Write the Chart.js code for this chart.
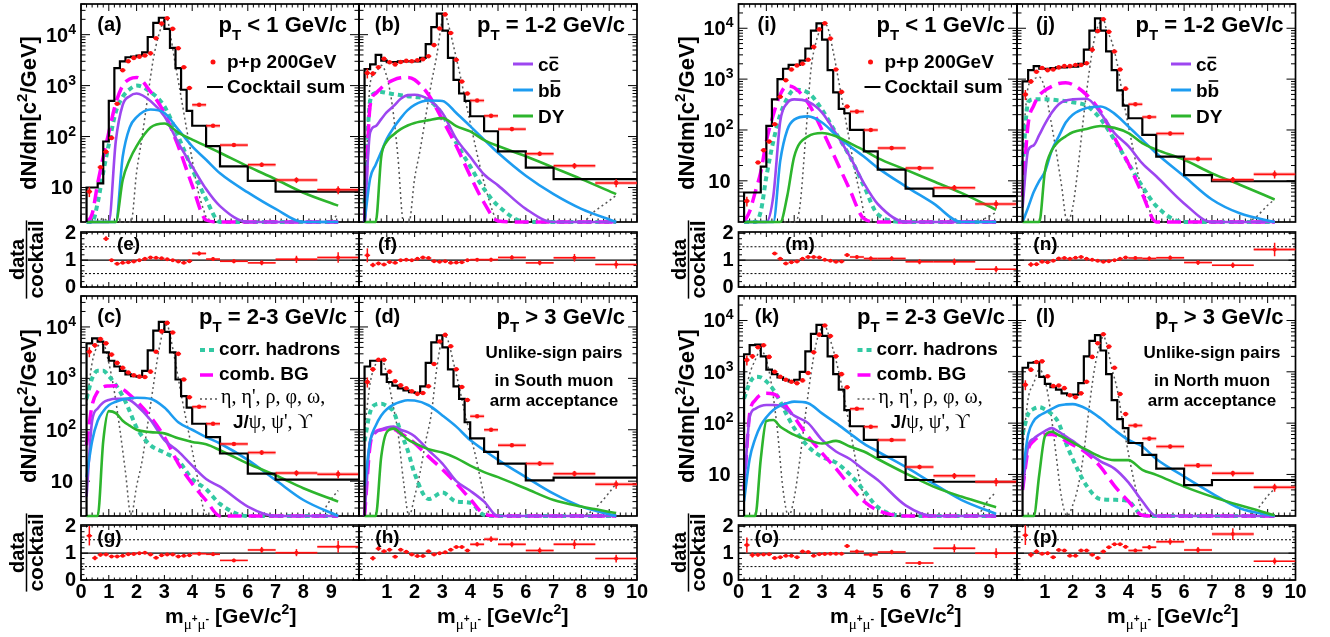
<!DOCTYPE html>
<html>
<head>
<meta charset="utf-8">
<title>Dimuon mass spectra in p+p at 200 GeV</title>
<script src="https://cdn.jsdelivr.net/npm/chart.js@4.4.1/dist/chart.umd.min.js"></script>
<style>
  html, body { margin: 0; padding: 0; background: #fff; }
  #wrap { position: relative; width: 1330px; height: 637px; overflow: hidden; background: #fff; }
  #wrap canvas { position: absolute; left: 0; top: 0; }
</style>
</head>
<body>
<div id="wrap"></div>
<script>
// ---------- binning / axes ----------
var binEdges = [0.2, 0.4, 0.6, 0.8, 1.0, 1.2, 1.4, 1.6, 1.8, 2.0, 2.2, 2.4, 2.6, 2.8, 3.0, 3.2, 3.4, 3.6, 3.8, 4.0, 4.5, 5, 6, 7, 8.5, 10];
var binCenters = [0.3, 0.5, 0.7, 0.9, 1.1, 1.3, 1.5, 1.7, 1.9, 2.1, 2.3, 2.5, 2.7, 2.9, 3.1, 3.3, 3.5, 3.7, 3.9, 4.25, 4.75, 5.5, 6.5, 7.75, 9.25];
var relErr = [0.22, 0.1, 0.07, 0.05, 0.05, 0.04, 0.04, 0.04, 0.04, 0.04, 0.04, 0.04, 0.03, 0.03, 0.02, 0.03, 0.03, 0.04, 0.05, 0.06, 0.07, 0.08, 0.1, 0.13, 0.18];
var curveX = [0.2, 0.4, 0.6, 0.8, 1.0, 1.25, 1.5, 1.75, 2.0, 2.5, 3.0, 3.5, 4.0, 4.5, 5.0, 6.0, 7.0, 8.0, 9.25];
var mesonX = [0.2, 0.4, 0.6, 0.8, 1.0, 1.2, 1.4, 1.6, 1.8, 2.0, 2.2, 2.4, 2.6, 2.8, 3.0, 3.1, 3.2, 3.4, 3.6, 3.8, 4.0, 4.2, 4.4, 4.6, 4.8, 5.0, 8.0, 8.5, 9.0, 9.25];
var xTicksFirst = ['0', '1', '2', '3', '4', '5', '6', '7', '8', '9'];
var xTicksSecond = ['1', '2', '3', '4', '5', '6', '7', '8', '9', '10'];
var ratioTicks = ['0', '1', '2'];
var logTicks = [10, 100, 1000, 10000];

// ---------- South arm ----------
// (a) pT < 1
var cocktailA = [1, 10, 10, 12, 80, 500, 2200, 3000, 3600, 3700, 3900, 4500, 9000, 17000, 21500, 13000, 5500, 2200, 830, 320, 163, 65, 26, 13.5, 8.3];
var dataA = [8.3, null, 25, 50, 94, 440, 2000, 3000, 3500, 3700, 3900, 4300, 8500, 16500, 21000, 13000, 5400, 2300, 900, 420, 163, 68, 28, 14, 9];
var combA = [1, 3, 12, 40, 120, 450, 1000, 1350, 1450, 760, 290, 64, 11, 2.3, 0.5, 0.1, 0.1, 0.1, 0.1];
var hadA = [0.5, 1.5, 5, 20, 70, 300, 600, 850, 1000, 750, 390, 100, 23, 5.9, 2.1, 0.3, 0.1, 0.1, 0.1];
var ccA = [0.1, 0.1, 0.1, 0.1, 0.5, 80, 420, 620, 700, 500, 250, 75, 26, 9.3, 4.3, 1.8, 0.5, 0.2, 0.1];
var bbA = [0.1, 0.1, 0.1, 0.1, 0.1, 0.5, 40, 150, 240, 340, 290, 137, 64, 35, 19, 8, 3.8, 1.5, 1];
var dyA = [0.1, 0.1, 0.1, 0.1, 0.1, 1, 14, 35, 65, 150, 180, 120, 87, 65, 48, 26, 14.5, 7.9, 4.4];
var mesonA = [1, 1, 1.5, 2.5, 2, 1, 0.8, 0.8, 1.5, 20, 100, 600, 3300, 10000, 19000, 20000, 11000, 2500, 600, 140, 35, 9, 3.8, 2, 1, 0.5, 0.8, 1.5, 2.3, 3];
// (b) pT = 1-2
var cocktailB = [1500, 2100, 2600, 4000, 3100, 2900, 2900, 3000, 3000, 3000, 3000, 3500, 6500, 14000, 26000, 12000, 3500, 1300, 700, 500, 250, 127, 51, 24.5, 14.6];
var dataB = [1770, 1720, 2290, 3360, 2880, 2610, 2900, 3060, 3000, 3150, 3300, 3780, 6240, 13200, 25000, 10800, 3200, 1200, 700, 510, 255, 140, 46, 26.7, 12.3];
var combB = [2, 400, 700, 900, 1100, 1300, 1420, 1450, 1300, 660, 215, 65, 17, 5, 2.2, 0.5, 0.1, 0.1, 0.1];
var hadB = [5, 500, 720, 750, 720, 680, 650, 620, 600, 520, 270, 75, 26, 9.3, 4.4, 1.5, 0.3, 0.1, 0.1];
var ccB = [1, 120, 160, 220, 300, 400, 550, 650, 660, 530, 290, 90, 40, 18, 11, 3.8, 1, 0.5, 0.5];
var bbB = [2, 15, 28, 50, 90, 150, 230, 330, 420, 510, 500, 290, 160, 87, 48, 17, 7.4, 3.8, 2];
var dyB = [0.1, 0.1, 0.5, 40, 80, 110, 140, 165, 185, 210, 230, 160, 126, 85, 65, 41, 24.5, 14.6, 7.4];
var mesonB = [2, 1100, 1800, 2500, 1500, 400, 40, 1.5, 1, 15, 55, 250, 1100, 4000, 20000, 24000, 17000, 6000, 2000, 600, 190, 60, 20, 8, 3.5, 1.5, 1, 3.5, 5.5, 7];
// (c) pT = 2-3
var cocktailC = [3000, 4800, 6000, 5200, 3200, 2200, 1700, 1400, 1200, 1100, 1080, 1400, 3500, 8500, 12500, 8000, 3200, 950, 450, 270, 131, 72, 34.5, 14, 10.7];
var dataC = [3300, 4400, 5800, 4800, 2900, 2000, 1600, 1300, 1150, 1080, 1060, 1350, 3300, 8200, 12000, 7800, 3000, 950, 430, 280, 131, 53, 36, 14.4, 13.7];
var combC = [50, 300, 550, 680, 710, 720, 620, 480, 360, 178, 72, 22, 8.9, 4.2, 2, 0.5, 0.1, 0.1, 0.1];
var hadC = [400, 1000, 1400, 1400, 1100, 750, 450, 230, 110, 50, 36, 25, 11, 7, 3.6, 1.5, 0.5, 0.1, 0.1];
var ccC = [5, 150, 260, 340, 380, 400, 400, 380, 300, 155, 63, 38, 20, 11, 7.8, 3.2, 1, 0.3, 0.1];
var bbC = [12, 60, 150, 230, 300, 350, 390, 410, 420, 400, 270, 140, 100, 72, 54, 26, 10.5, 4.3, 2];
var dyC = [0.1, 0.1, 0.5, 60, 230, 210, 150, 120, 100, 90, 85, 68, 58, 52, 40, 22, 13, 7.3, 4];
var mesonC = [300, 2000, 4200, 4600, 2000, 550, 100, 15, 1, 8, 25, 130, 700, 3500, 10000, 11000, 7000, 2000, 500, 140, 40, 11, 3, 1, 0.6, 0.5, 0.8, 2, 4.5, 6.6];
// (d) pT > 3
var cocktailD = [1100, 1700, 2200, 2200, 1200, 850, 720, 640, 580, 540, 520, 700, 2000, 5000, 6900, 4000, 1500, 700, 400, 140, 68, 37, 22, 10.4, 11.7];
var dataD = [850, 1500, 2300, 2300, 1350, 880, 730, 640, 560, 500, 520, 700, 1900, 5200, 7000, 4200, 1500, 680, 380, 183, 100, 50, 22, 14, 8.7];
var combD = [2, 50, 90, 100, 105, 102, 85, 70, 55, 30, 17, 9, 4.5, 2.3, 1, 0.3, 0.1, 0.1, 0.1];
var hadD = [60, 220, 310, 320, 290, 220, 90, 40, 14, 4.5, 6, 4, 3.8, 2.2, 1, 0.5, 0.1, 0.1, 0.1];
var ccD = [2, 60, 90, 100, 110, 115, 100, 90, 75, 40, 22, 10, 6.5, 4, 1.5, 0.3, 0.1, 0.1, 0.1];
var bbD = [8, 60, 120, 190, 250, 310, 350, 375, 370, 300, 190, 115, 63, 40, 26, 12, 5.7, 3.2, 2];
var dyD = [0.1, 0.1, 0.5, 30, 90, 105, 85, 65, 55, 42, 36, 28, 20, 15, 12, 7.2, 4.3, 3.2, 2.4];
var mesonD = [100, 800, 1900, 2400, 1200, 350, 90, 10, 2, 5, 15, 60, 200, 1600, 6000, 6500, 5500, 2000, 700, 220, 80, 30, 9, 3, 1, 0.5, 1.5, 3, 6, 9];
// ratios (e)-(h)
var ratioE = [null, null, null, 1.8, 1.0, 0.87, 0.9, 0.92, 0.95, 1.0, 1.05, 1.1, 1.09, 1.07, 1.03, 1.0, 0.95, 0.9, 0.96, 1.25, 1.04, 0.96, 0.9, 1.03, 1.1];
var ratioF = [1.18, 0.82, 0.88, 0.84, 0.93, 0.9, 1.0, 1.02, 1.0, 1.05, 1.1, 1.08, 0.96, 0.94, 0.96, 0.9, 0.91, 0.92, 1.0, 1.02, 1.02, 1.1, 0.9, 1.09, 0.84];
var ratioG = [1.65, 0.82, 0.94, 0.95, 0.88, 0.88, 0.9, 0.96, 0.97, 1.0, 1.02, 0.95, 0.83, 0.92, 0.95, 0.95, 0.88, 0.9, 0.92, 0.98, 0.96, 0.73, 1.12, 1.02, 1.24];
var ratioH = [null, 0.81, 1.17, 1.07, 1.13, 0.87, 1.13, 1.05, 0.95, 0.89, 0.89, 1.07, 0.95, 1.0, 1.03, 1.13, 1.23, 1.23, 1.1, 1.33, 1.52, 1.33, 1.1, 1.33, 0.8];

// ---------- North arm ----------
// (i) pT < 1
var cocktailI = [1, 5.9, 5.9, 5.9, 19, 120, 400, 1000, 1600, 1900, 1900, 2300, 4000, 9000, 12500, 6000, 1500, 550, 260, 213, 100, 38, 16.6, 7, 5];
var dataI = [4, null, 23, 40, 59, 130, 450, 950, 1550, 1850, 2000, 2400, 4300, 9500, 12500, 6300, 1550, 560, 290, 230, 100, 44, 17.8, 7.3, 3.5];
var combI = [1, 2.5, 6, 15, 60, 200, 500, 740, 680, 340, 100, 26, 6.6, 1.8, 0.6, 0.1, 0.1, 0.1, 0.1];
var hadI = [0.5, 0.5, 1.2, 2.5, 12, 60, 200, 420, 620, 540, 250, 87, 30, 8, 2.2, 0.5, 0.1, 0.1, 0.1];
var ccI = [0.1, 0.1, 0.1, 0.1, 0.5, 5, 150, 340, 400, 360, 220, 85, 30, 9, 3.5, 1.3, 0.5, 0.1, 0.1];
var bbI = [0.1, 0.1, 0.1, 0.1, 0.1, 0.5, 25, 100, 160, 185, 140, 80, 48, 30, 18, 7.8, 3.6, 1.2, 0.5];
var dyI = [0.1, 0.1, 0.1, 0.1, 0.1, 0.5, 1, 5, 30, 75, 87, 75, 55, 40, 28, 16.6, 9.8, 5.8, 2.7];
var mesonI = [1, 1, 1, 1, 1, 1, 1, 1, 1, 1.5, 3, 60, 1500, 5800, 11000, 12000, 10500, 3500, 900, 220, 55, 14, 4.5, 1.5, 0.8, 0.5, 0.5, 1.3, 2, 2.4];
// (j) pT = 1-2
var cocktailJ = [400, 900, 1500, 1800, 1600, 1600, 1650, 1700, 1700, 1750, 1750, 2000, 3800, 9000, 15700, 9000, 3500, 1500, 600, 300, 170, 80, 30, 13, 9.8];
var dataJ = [500, 900, 1400, 1650, 1500, 1550, 1700, 1800, 1800, 1900, 1900, 2050, 3800, 8800, 15000, 8500, 3500, 1550, 650, 320, 180, 85, 27, 10.5, 13.5];
var combJ = [5, 130, 300, 480, 600, 720, 820, 850, 780, 490, 230, 70, 22, 5.5, 1.5, 0.2, 0.1, 0.1, 0.1];
var hadJ = [20, 350, 400, 400, 400, 395, 380, 370, 350, 300, 165, 64, 22, 7.8, 3.2, 0.8, 0.1, 0.1, 0.1];
var ccJ = [3, 40, 50, 80, 130, 220, 320, 380, 400, 410, 215, 87, 48, 22, 12.3, 3.6, 1, 0.5, 0.5];
var bbJ = [1, 3, 6, 10, 15, 40, 75, 140, 200, 270, 290, 210, 117, 64, 35, 12.3, 4.3, 2.3, 1];
var dyJ = [0.1, 0.1, 0.1, 1.5, 15, 40, 60, 75, 90, 105, 120, 110, 87, 55, 41, 26, 14, 8.4, 4.3];
var mesonJ = [50, 700, 1000, 1100, 650, 170, 40, 8, 1.5, 3, 20, 200, 1500, 7000, 14000, 15500, 10000, 5500, 2000, 450, 120, 35, 10, 5, 2.3, 1, 0.8, 1.8, 3.3, 4.3];
// (k) pT = 2-3
var cocktailK = [1600, 2200, 3300, 3400, 2000, 1100, 900, 780, 700, 650, 700, 1000, 2500, 5500, 8200, 5000, 2000, 900, 450, 180, 87, 47, 22, 7.8, 7.2];
var dataK = [1700, 2000, 3000, 3300, 1950, 1000, 800, 700, 640, 600, 680, 950, 2400, 5300, 8000, 5000, 2000, 900, 500, 190, 85, 47, 14, 9.4, 7.2];
var combK = [5, 150, 280, 360, 380, 370, 300, 200, 130, 55, 26, 13, 6, 3, 2, 0.5, 0.1, 0.1, 0.1];
var hadK = [300, 600, 800, 780, 650, 450, 260, 140, 80, 35, 22, 17, 10, 4.9, 2.3, 0.8, 0.1, 0.1, 0.1];
var ccK = [5, 130, 190, 215, 225, 225, 220, 180, 140, 100, 47, 28, 20, 12.3, 7.8, 2.5, 0.8, 0.1, 0.1];
var bbK = [3, 20, 50, 90, 130, 180, 220, 245, 262, 245, 155, 100, 63, 40, 28, 14, 6.6, 3.2, 1.7];
var dyK = [0.1, 0.1, 0.5, 20, 110, 115, 85, 70, 59, 47, 40, 45, 35, 28, 20, 10.5, 5.8, 3.7, 2.3];
var mesonK = [300, 900, 1700, 2600, 1700, 500, 70, 5, 1.2, 3.5, 19, 140, 900, 3800, 7500, 8000, 6000, 2700, 1000, 300, 80, 20, 6, 2.5, 1, 0.6, 0.6, 1.5, 3.3, 4.6];
// (l) pT > 3
var cocktailL = [700, 1200, 1500, 1550, 800, 580, 500, 450, 380, 350, 360, 600, 2000, 4000, 5200, 2600, 900, 280, 120, 80, 41, 24, 13, 6.2, 7.8];
var dataL = [560, 1100, 1550, 1600, 820, 530, 540, 480, 350, 320, 380, 640, 1950, 3600, 5400, 3100, 1200, 370, 150, 90, 50, 35, 15, 10.5, 5.6];
var combL = [5, 30, 45, 55, 60, 60, 55, 45, 38, 26, 14, 6, 3, 1.6, 0.8, 0.1, 0.1, 0.1, 0.1];
var hadL = [60, 150, 190, 205, 185, 150, 100, 42, 20, 6, 3.3, 3.2, 3, 1.6, 0.8, 0.1, 0.1, 0.1, 0.1];
var ccL = [5, 35, 50, 60, 70, 80, 68, 55, 45, 28, 18, 13, 7, 3, 1.2, 0.2, 0.1, 0.1, 0.1];
var bbL = [10, 60, 110, 140, 160, 190, 220, 232, 235, 190, 124, 74, 47, 35, 20, 9.1, 4.3, 2.2, 1];
var dyL = [0.1, 0.1, 0.3, 10, 55, 68, 58, 50, 42, 30, 22, 19, 19, 12.3, 9.8, 5.8, 3.7, 2.5, 1.6];
var mesonL = [30, 300, 600, 1100, 700, 180, 25, 3.5, 1, 2.5, 6, 27, 220, 1300, 3800, 4900, 3800, 1200, 450, 100, 26, 7.5, 2.8, 1.2, 0.7, 0.5, 0.6, 1.8, 3.8, 5.3];
// ratios (m)-(p)
var ratioM = [null, null, null, null, null, 1.25, 1.05, 0.88, 0.92, 0.95, 1.05, 1.12, 1.12, 1.1, 1.02, 0.98, 0.94, 0.95, 1.19, 1.12, 1.06, 1.06, 0.94, 0.94, 0.66];
var ratioN = [null, 0.84, 0.85, 0.94, 0.92, 0.98, 1.06, 1.08, 1.05, 1.09, 1.12, 1.05, 1.02, 0.98, 0.94, 0.96, 1.0, 1.05, 1.1, 1.08, 1.06, 1.09, 0.91, 0.81, 1.4];
var ratioO = [1.3, 0.93, 0.94, 0.95, 0.96, 0.82, 0.85, 0.9, 0.9, 0.85, 1.06, 1.04, 0.9, 0.96, 0.97, 0.98, 0.98, 0.98, 1.27, 1.06, 0.94, 1.04, 0.63, 1.18, 1.0];
var ratioP = [1.67, 0.94, 1.06, 0.98, 1.0, 0.85, 1.12, 1.1, 0.9, 0.9, 1.1, 1.1, 0.94, 0.82, 1.06, 1.22, 1.33, 1.33, 1.24, 1.1, 1.22, 1.43, 1.12, 1.71, 0.7];

// ---------- style ----------
var SANS = "'Liberation Sans', Arial, Helvetica, sans-serif";
var SERIF = "'Liberation Serif', 'DejaVu Serif', serif";
function bold(px) { return 'bold ' + px + 'px ' + SANS; }
function serif(px) { return px + 'px ' + SERIF; }
var RED = '#ff1010';
var colHad = '#33c9a3', colComb = '#ff00ff', colCC = '#9d46f0', colBB = '#1d9cf0', colDY = '#2db52d', colMeson = '#555555';
var bottomClip = {left: 0, top: 0, right: 0, bottom: 3};

function seg(ctx, x0, y0, x1, y1) { ctx.beginPath(); ctx.moveTo(x0, y0); ctx.lineTo(x1, y1); ctx.stroke(); }

// text made of runs [text, font, dy]
function runs(ctx, list, x, y, align) {
  var w = 0;
  list.forEach(function (r) { ctx.font = r[1]; r.w = ctx.measureText(r[0]).width; w += r.w; });
  var cx = align === 'right' ? x - w : (align === 'center' ? x - w / 2 : x);
  ctx.textAlign = 'left';
  list.forEach(function (r) { ctx.font = r[1]; ctx.fillText(r[0], cx, y + (r[2] || 0)); cx += r.w; });
}

function frame(ctx, ca, xs, ys, p, ratio) {
  ctx.strokeStyle = '#000';
  ctx.setLineDash([]);
  ctx.lineWidth = 1;
  ctx.beginPath();
  var mj = ratio ? 5 : 7, mn = ratio ? 2.5 : 3.5;
  for (var i = 0; i <= 50; i++) {
    var px = xs.getPixelForValue(i / 5);
    var len = i % 5 === 0 ? mj : mn;
    ctx.moveTo(px, ca.bottom); ctx.lineTo(px, ca.bottom - len);
    ctx.moveTo(px, ca.top); ctx.lineTo(px, ca.top + len);
  }
  if (!ratio) {
    for (var d = 0; d <= 4; d++) {
      for (var k = 1; k <= 9; k++) {
        var v = k * Math.pow(10, d);
        if (v < p.yMin || v > p.yMax) continue;
        var py = ys.getPixelForValue(v), l = k === 1 ? 9 : 4.5;
        ctx.moveTo(ca.left, py); ctx.lineTo(ca.left + l, py);
        ctx.moveTo(ca.right, py); ctx.lineTo(ca.right - l, py);
      }
    }
  } else {
    for (var j = 0; j <= 10; j++) {
      var qy = ys.getPixelForValue(j / 5), lq = j % 5 === 0 ? 7 : 3.5;
      ctx.moveTo(ca.left, qy); ctx.lineTo(ca.left + lq, qy);
      ctx.moveTo(ca.right, qy); ctx.lineTo(ca.right - lq, qy);
    }
  }
  ctx.stroke();
  ctx.lineWidth = 1.7;
  ctx.strokeRect(ca.left, ca.top, ca.right - ca.left, ca.bottom - ca.top);
}

function errBars(ctx, ca, xs, ys, vals, band) {
  ctx.save();
  ctx.beginPath(); ctx.rect(ca.left, ca.top, ca.right - ca.left, ca.bottom - ca.top); ctx.clip();
  ctx.setLineDash([]);
  vals.forEach(function (v, i) {
    if (v === null) return;
    var x0 = xs.getPixelForValue(binEdges[i]), x1 = xs.getPixelForValue(binEdges[i + 1]);
    var xc = xs.getPixelForValue(binCenters[i]), yc = ys.getPixelForValue(v);
    if (x1 - x0 > 10) {
      var yb0 = ys.getPixelForValue(v * (1 + band)), yb1 = ys.getPixelForValue(v * (1 - band));
      ctx.fillStyle = 'rgba(255,70,70,0.4)';
      ctx.fillRect(x0, yb0, x1 - x0, yb1 - yb0);
    }
    ctx.strokeStyle = RED; ctx.lineWidth = 1.5;
    seg(ctx, x0, yc, x1, yc);
    seg(ctx, xc, ys.getPixelForValue(v * (1 - relErr[i])), xc, ys.getPixelForValue(v * (1 + relErr[i])));
  });
  ctx.restore();
}

function curve(xs, ys, lo, color, width, dash) {
  return {
    data: xs.map(function (x, i) { return {x: x, y: Math.max(ys[i], lo)}; }),
    borderColor: color, borderWidth: width, borderDash: dash,
    pointRadius: 0, cubicInterpolationMode: 'monotone', fill: false, clip: bottomClip
  };
}

function baseOptions(box, yScale) {
  return {
    responsive: false, animation: false, events: [], devicePixelRatio: 1,
    layout: {padding: {left: box[0], top: box[1], right: 1330 - box[2], bottom: 637 - box[3]}},
    scales: {x: {type: 'linear', min: 0, max: 10, display: false}, y: yScale},
    plugins: {legend: {display: false}, tooltip: {enabled: false}}
  };
}

function newCanvas() {
  var cv = document.createElement('canvas');
  cv.width = 1330; cv.height = 637;
  document.getElementById('wrap').appendChild(cv);
  return cv.getContext('2d');
}

function drawLegend(ctx, ca, p) {
  ctx.fillStyle = '#000';
  ctx.textAlign = 'left';
  if (p.legend === 'data') {
    ctx.fillStyle = RED; ctx.beginPath(); ctx.arc(ca.left + 132, ca.top + 58, 2.5, 0, 2 * Math.PI); ctx.fill();
    ctx.strokeStyle = '#000'; ctx.lineWidth = 2; seg(ctx, ca.left + 126, ca.top + 83, ca.left + 142, ca.top + 83);
    ctx.fillStyle = '#000'; ctx.font = bold(19);
    ctx.fillText('p+p 200GeV', ca.left + 146, ca.top + 64);
    ctx.fillText('Cocktail sum', ca.left + 146, ca.top + 89);
  } else if (p.legend === 'heavy') {
    var rows = [['cc', colCC, 13], ['bb', colBB, 15.5], ['DY', colDY, 0]];
    rows.forEach(function (r, k) {
      var ly = ca.top + 60 + 26 * k, tx = ca.left + 179, by = ly + 6.5;
      ctx.strokeStyle = r[1]; ctx.lineWidth = 3; seg(ctx, ca.left + 154, ly, ca.left + 174, ly);
      ctx.font = bold(19); ctx.fillStyle = '#000'; ctx.fillText(r[0], tx, by);
      if (r[2]) {
        var w1 = ctx.measureText(r[0].charAt(0)).width, w2 = ctx.measureText(r[0]).width;
        ctx.strokeStyle = '#000'; ctx.lineWidth = 1.6; seg(ctx, tx + w1 + 1, by - r[2], tx + w2 - 1, by - r[2]);
      }
    });
  } else if (p.legend === 'bg') {
    ctx.strokeStyle = colHad; ctx.lineWidth = 4; ctx.setLineDash([5, 4]);
    seg(ctx, ca.left + 119, ca.top + 54, ca.left + 137, ca.top + 54);
    ctx.strokeStyle = colComb; ctx.lineWidth = 3.5; ctx.setLineDash([13, 5]);
    seg(ctx, ca.left + 119, ca.top + 79, ca.left + 137, ca.top + 79);
    ctx.strokeStyle = colMeson; ctx.lineWidth = 1.4; ctx.setLineDash([2, 3]);
    seg(ctx, ca.left + 119, ca.top + 103, ca.left + 137, ca.top + 103);
    ctx.setLineDash([]);
    ctx.fillStyle = '#000'; ctx.font = bold(19);
    ctx.fillText('corr. hadrons', ca.left + 138, ca.top + 59);
    ctx.fillText('comb. BG', ca.left + 138, ca.top + 84);
    ctx.font = serif(20);
    ctx.fillText("\u03b7, \u03b7', \u03c1, \u03c6, \u03c9,", ca.left + 140, ca.top + 107);
    runs(ctx, [['J/', bold(19)], ["\u03c8, \u03c8', \u03d2", serif(20)]], ca.left + 152, ca.top + 132, 'left');
  } else if (p.legend === 'accept') {
    ctx.font = bold(17); ctx.textAlign = 'center';
    ctx.fillText('Unlike-sign pairs', ca.left + 195, ca.top + 62);
    ctx.fillText('in ' + p.arm + ' muon', ca.left + 195, ca.top + 90);
    ctx.fillText('arm acceptance', ca.left + 195, ca.top + 110);
  }
}

function addMain(p) {
  var ctx = newCanvas();
  var lo = p.yMin;
  var step = [{x: binEdges[0], y: lo}].concat(binEdges.map(function (e, i) {
    return {x: e, y: Math.max(p.cocktail[Math.min(i, p.cocktail.length - 1)], lo)};
  }));
  var pts = [];
  binCenters.forEach(function (x, i) { if (p.data[i] !== null) pts.push({x: x, y: p.data[i]}); });
  var ds = [
    {data: pts, showLine: false, pointRadius: 2.3, pointBackgroundColor: RED, pointBorderWidth: 0},
    {data: step, stepped: 'after', borderColor: '#000', borderWidth: 2.2, pointRadius: 0, fill: false, clip: bottomClip},
    curve(curveX, p.dy, lo, colDY, 2.6, []),
    curve(curveX, p.bb, lo, colBB, 2.6, []),
    curve(curveX, p.cc, lo, colCC, 2.6, []),
    curve(curveX, p.comb, lo, colComb, 3.5, [14, 7]),
    curve(curveX, p.had, lo, colHad, 4, [5, 4]),
    curve(mesonX, p.meson, lo, colMeson, 1.5, [2, 3])
  ];
  new Chart(ctx, {
    type: 'line',
    data: {datasets: ds},
    options: baseOptions(p.box, {type: 'logarithmic', min: p.yMin, max: p.yMax, display: false}),
    plugins: [{
      id: 'mainDeco',
      beforeDatasetsDraw: function (chart) {
        var c = chart.ctx; c.save();
        frame(c, chart.chartArea, chart.scales.x, chart.scales.y, p, false);
        c.restore();
      },
      afterDatasetsDraw: function (chart) {
        var c = chart.ctx, ca = chart.chartArea, xs = chart.scales.x, ys = chart.scales.y;
        errBars(c, ca, xs, ys, p.data, 0.08);
        c.save();
        c.fillStyle = '#000'; c.textBaseline = 'alphabetic';
        c.font = bold(20); c.textAlign = 'center';
        c.fillText(p.letter, ca.left + 28.5, ca.top + 27);
        runs(c, [['p', bold(22)], ['T', bold(15), 8], [p.pt, bold(22)]], ca.right - 12, ca.top + 28, 'right');
        drawLegend(c, ca, p);
        c.fillStyle = '#000';
        if (p.yTitleX) {
          logTicks.forEach(function (v) {
            var py = ys.getPixelForValue(v), e = Math.round(Math.log10(v));
            if (e === 1) runs(c, [['10', bold(20)]], ca.left - 8, py + 7, 'right');
            else runs(c, [['10', bold(20)], [String(e), bold(14), -8]], ca.left - 5, py + 7, 'right');
          });
          c.save();
          c.translate(p.yTitleX, (ca.top + ca.bottom) / 2);
          c.rotate(-Math.PI / 2);
          runs(c, [['dN/dm[c', bold(22)], ['2', bold(15), -9], ['/GeV]', bold(22)]], 0, 6, 'center');
          c.restore();
        }
        c.restore();
      }
    }]
  });
}

function addRatio(p) {
  var ctx = newCanvas();
  var pts = [];
  binCenters.forEach(function (x, i) { if (p.vals[i] !== null) pts.push({x: x, y: p.vals[i]}); });
  new Chart(ctx, {
    type: 'line',
    data: {datasets: [{data: pts, showLine: false, pointRadius: 2, pointBackgroundColor: RED, pointBorderWidth: 0}]},
    options: baseOptions(p.box, {type: 'linear', min: 0, max: 2.05, display: false}),
    plugins: [{
      id: 'ratioDeco',
      beforeDatasetsDraw: function (chart) {
        var c = chart.ctx, ca = chart.chartArea, ys = chart.scales.y;
        c.save();
        c.strokeStyle = '#000';
        c.lineWidth = 1.2; c.setLineDash([]);
        seg(c, ca.left, ys.getPixelForValue(1), ca.right, ys.getPixelForValue(1));
        c.lineWidth = 1; c.setLineDash([2, 2]);
        seg(c, ca.left, ys.getPixelForValue(0.5), ca.right, ys.getPixelForValue(0.5));
        seg(c, ca.left, ys.getPixelForValue(1.5), ca.right, ys.getPixelForValue(1.5));
        frame(c, ca, chart.scales.x, ys, p, true);
        c.restore();
      },
      afterDatasetsDraw: function (chart) {
        var c = chart.ctx, ca = chart.chartArea, xs = chart.scales.x, ys = chart.scales.y;
        errBars(c, ca, xs, ys, p.vals, 0.04);
        c.save();
        c.fillStyle = '#000'; c.textBaseline = 'alphabetic';
        c.font = bold(19); c.textAlign = 'center';
        c.fillText(p.letter, ca.left + (p.letterCx || 28.5), ca.top + 18);
        if (p.rTitleX) {
          ratioTicks.forEach(function (t) {
            runs(c, [[t, bold(20)]], ca.left - 5, ys.getPixelForValue(Number(t)) + 6, 'right');
          });
          c.save();
          c.translate(p.rTitleX, (ca.top + ca.bottom) / 2);
          c.rotate(-Math.PI / 2);
          c.textAlign = 'center';
          c.font = bold(20); c.fillText('data', 0, -2);
          c.font = bold(21); c.fillText('cocktail', 0, 17);
          var w = c.measureText('cocktail').width;
          c.strokeStyle = '#000'; c.lineWidth = 1.5; seg(c, -w / 2, 0.5, w / 2, 0.5);
          c.restore();
        }
        if (p.xLabels) {
          c.font = bold(20); c.textAlign = 'center';
          p.xLabels.forEach(function (t) { c.fillText(t, xs.getPixelForValue(Number(t)), ca.bottom + 18); });
          runs(c, [['m', bold(21)], ['\u03bc', serif(15), 6], ['+', bold(10), -1], ['\u03bc', serif(15), 6], ['-', bold(11), -1],
                   [' [GeV/c', bold(21)], ['2', bold(14), -9], [']', bold(21)]], p.xTitleX, 623, 'left');
        }
        c.restore();
      }
    }]
  });
}

// ---------- panels ----------
var southMin = 2.1, southMax = 40000, northMin = 1.55, northMax = 30000;

addMain({box: [81, 3, 359, 222], yMin: southMin, yMax: southMax, cocktail: cocktailA, data: dataA, comb: combA, had: hadA, cc: ccA, bb: bbA, dy: dyA, meson: mesonA,
  letter: '(a)', pt: ' < 1 GeV/c', legend: 'data', yTitleX: 29.5});
addMain({box: [359, 3, 637, 222], yMin: southMin, yMax: southMax, cocktail: cocktailB, data: dataB, comb: combB, had: hadB, cc: ccB, bb: bbB, dy: dyB, meson: mesonB,
  letter: '(b)', pt: ' = 1-2 GeV/c', legend: 'heavy'});
addMain({box: [81, 296, 359, 516], yMin: southMin, yMax: southMax, cocktail: cocktailC, data: dataC, comb: combC, had: hadC, cc: ccC, bb: bbC, dy: dyC, meson: mesonC,
  letter: '(c)', pt: ' = 2-3 GeV/c', legend: 'bg', yTitleX: 29.5});
addMain({box: [359, 296, 637, 516], yMin: southMin, yMax: southMax, cocktail: cocktailD, data: dataD, comb: combD, had: hadD, cc: ccD, bb: bbD, dy: dyD, meson: mesonD,
  letter: '(d)', pt: ' > 3 GeV/c', legend: 'accept', arm: 'South'});
addRatio({box: [81, 232, 359, 287], vals: ratioE, letter: '(e)', letterCx: 47.5, rTitleX: 26});
addRatio({box: [359, 232, 637, 287], vals: ratioF, letter: '(f)'});
addRatio({box: [81, 525, 359, 580], vals: ratioG, letter: '(g)', rTitleX: 26, xLabels: xTicksFirst, xTitleX: 165});
addRatio({box: [359, 525, 637, 580], vals: ratioH, letter: '(h)', xLabels: xTicksSecond, xTitleX: 437});

addMain({box: [738.5, 3, 1017, 222], yMin: northMin, yMax: northMax, cocktail: cocktailI, data: dataI, comb: combI, had: hadI, cc: ccI, bb: bbI, dy: dyI, meson: mesonI,
  letter: '(i)', pt: ' < 1 GeV/c', legend: 'data', yTitleX: 687.5});
addMain({box: [1017, 3, 1295.5, 222], yMin: northMin, yMax: northMax, cocktail: cocktailJ, data: dataJ, comb: combJ, had: hadJ, cc: ccJ, bb: bbJ, dy: dyJ, meson: mesonJ,
  letter: '(j)', pt: ' = 1-2 GeV/c', legend: 'heavy'});
addMain({box: [738.5, 296, 1017, 516], yMin: northMin, yMax: northMax, cocktail: cocktailK, data: dataK, comb: combK, had: hadK, cc: ccK, bb: bbK, dy: dyK, meson: mesonK,
  letter: '(k)', pt: ' = 2-3 GeV/c', legend: 'bg', yTitleX: 687.5});
addMain({box: [1017, 296, 1295.5, 516], yMin: northMin, yMax: northMax, cocktail: cocktailL, data: dataL, comb: combL, had: hadL, cc: ccL, bb: bbL, dy: dyL, meson: mesonL,
  letter: '(l)', pt: ' > 3 GeV/c', legend: 'accept', arm: 'North'});
addRatio({box: [738.5, 232, 1017, 287], vals: ratioM, letter: '(m)', letterCx: 61.5, rTitleX: 688});
addRatio({box: [1017, 232, 1295.5, 287], vals: ratioN, letter: '(n)'});
addRatio({box: [738.5, 525, 1017, 580], vals: ratioO, letter: '(o)', rTitleX: 688, xLabels: xTicksFirst, xTitleX: 830});
addRatio({box: [1017, 525, 1295.5, 580], vals: ratioP, letter: '(p)', xLabels: xTicksSecond, xTitleX: 1107});
</script>
</body>
</html>
